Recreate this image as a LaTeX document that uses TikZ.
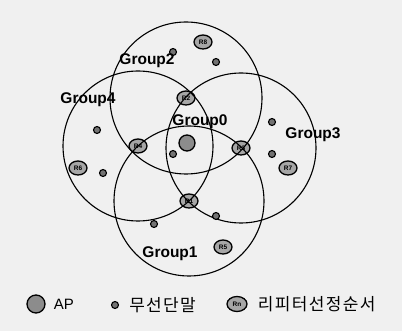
\documentclass[tikz,border=0pt]{standalone}
\usepackage{fontspec}
\setmainfont{Liberation Sans}
\newfontfamily\krfont{Noto Sans CJK KR}
\usetikzlibrary{shapes.geometric, positioning}
\tikzset{
  apnode/.style     = {circle, draw=black, line width=1.3pt, fill=black!45,
                       minimum size=16pt, inner sep=0pt},
  rptnode/.style    = {ellipse, draw=black, line width=1.3pt, fill=black!35,
                       minimum width=18pt, minimum height=14pt, inner sep=0pt,
                       font=\fontsize{6.5}{6.5}\selectfont\bfseries},
  termnode/.style   = {circle, draw=black, line width=1.1pt, fill=black!55,
                       minimum size=7pt, inner sep=0pt},
  grouplabel/.style = {font=\fontsize{15.5}{15.5}\selectfont\bfseries},
  legendtext/.style = {font=\fontsize{15}{15}\selectfont, inner sep=0pt},
  krtext/.style     = {inner sep=0pt,
                       font=\krfont\fontsize{17}{17}\selectfont\addfontfeature{LetterSpace=8}},
  grouprange/.style = {line width=1.1pt, black},
}

\begin{document}
\begin{tikzpicture}[x=1pt, y=-1pt]

  % background
  \fill[black!6] (0,0) rectangle (402,331);
  \useasboundingbox (0,0) rectangle (402,331);

  % AP and repeaters
  \node[apnode]  (ap) at (187,143) {};
  \node[rptnode] (r1) at (189,201) {R1};
  \node[rptnode] (r2) at (186,98)  {R2};
  \node[rptnode] (r3) at (241,148) {R3};
  \node[rptnode] (r4) at (138,146) {R4};
  \node[rptnode] (r5) at (223,247) {R5};
  \node[rptnode] (r6) at (78,168)  {R6};
  \node[rptnode] (r7) at (288,168) {R7};
  \node[rptnode] (r8) at (203,42)  {R8};

  % Group ranges
  \draw[grouprange] (r2) circle (76);
  \draw[grouprange] (r4) circle (75);
  \draw[grouprange] (r3) circle (75);
  \draw[grouprange] (r1) circle (75);

  % Terminals
  \node[termnode] (t1) at (173,52)  {};
  \node[termnode] (t2) at (216,62)  {};
  \node[termnode] (t3) at (97,130)  {};
  \node[termnode] (t4) at (173,154) {};
  \node[termnode] (t5) at (272,122) {};
  \node[termnode] (t6) at (272,154) {};
  \node[termnode] (t7) at (103,173) {};
  \node[termnode] (t8) at (154,224) {};
  \node[termnode] (t9) at (216,216) {};

  % Group labels
  \node[grouplabel] (g0) at (200,122) {Group0};
  \node[grouplabel] (g1) at (170,254) {Group1};
  \node[grouplabel] (g2) at (147,61)  {Group2};
  \node[grouplabel] (g3) at (313,135) {Group3};
  \node[grouplabel] (g4) at (88,100)  {Group4};

  % Legend
  \node[apnode, minimum size=18pt] (lap) at (36,304) {};
  \node[legendtext, right=8pt of lap] (lapt) {AP};
  \node[termnode] (lterm) at (115,305) {};
  \node[krtext, right=10pt of lterm] (ltermt) {무선단말};
  \node[rptnode, minimum width=20pt, minimum height=15pt] (lrpt) at (237,304) {Rn};
  \node[krtext, right=10pt of lrpt] (lrptt) {리피터선정순서};

\end{tikzpicture}
\end{document}
